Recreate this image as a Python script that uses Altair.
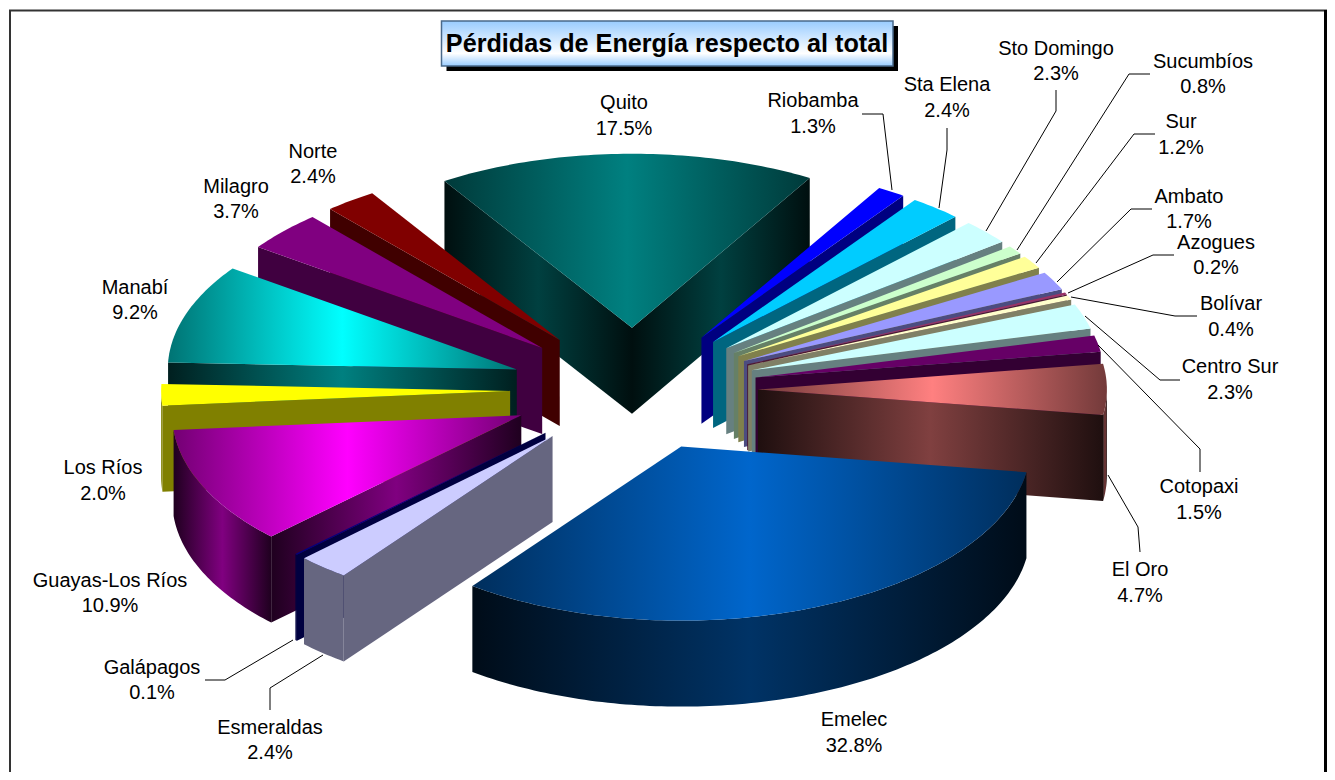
import math
import altair as alt

# ---- data ----
names = ["Quito", "Riobamba", "Sta Elena", "Sto Domingo", "Sucumbíos", "Sur", "Ambato", "Azogues",
         "Bolívar", "Centro Sur", "Cotopaxi", "El Oro", "Emelec", "Esmeraldas", "Galápagos",
         "Guayas-Los Ríos", "Los Ríos", "Manabí", "Milagro", "Norte"]
shares = [17.5, 1.3, 2.4, 2.3, 0.8, 1.2, 1.7, 0.2, 0.4, 2.3, 1.5, 4.7, 32.8, 2.4, 0.1, 10.9, 2.0, 9.2, 3.7, 2.4]
colors = ["#008080", "#0000FF", "#00CCFF", "#CCFFFF", "#CCFFCC", "#FFFF99", "#9999FF", "#993366",
          "#FFFFCC", "#CCFFFF", "#660066", "#FF8080", "#0066CC", "#CCCCFF", "#000080",
          "#FF00FF", "#FFFF00", "#00FFFF", "#800080", "#800000"]
shaded = ["Quito", "El Oro", "Emelec", "Guayas-Los Ríos", "Manabí"]

# label placement (page pixels)
label_x = [624, 813, 947, 1056, 1203, 1181, 1189, 1216, 1231, 1230, 1199, 1140, 854, 270, 152, 110, 103, 135, 236, 313]
label_y1 = [103, 101, 85, 49, 62, 122, 197, 243, 304, 367, 487, 570, 720, 728, 668, 581, 468, 288, 187, 152]
label_y2 = [129, 127, 111, 74, 87, 148, 222, 268, 330, 393, 513, 596, 746, 753, 693, 606, 494, 313, 212, 177]

# leader lines (page pixels)
leaders = [
    [(862, 114), (883, 114), (892, 190)],
    [(947, 128), (947, 150), (939, 208)],
    [(1056, 90), (1056, 111), (986, 231)],
    [(1150, 74), (1129, 74), (1017, 250)],
    [(1155, 134), (1134, 134), (1036, 263)],
    [(1152, 209), (1131, 209), (1057, 282)],
    [(1174, 255), (1153, 255), (1068, 293)],
    [(1197, 316), (1175, 316), (1071, 297)],
    [(1180, 380), (1160, 380), (1085, 316)],
    [(1200, 472), (1200, 449), (1098, 345)],
    [(1140, 552), (1138, 527), (1108, 475)],
    [(205, 680), (225, 680), (293, 640)],
    [(270, 710), (270, 688), (323, 655)],
]

# ---- pie geometry ----
CX, CY = 634, 389.5
RX, RY = 349, 174
DEPTH = 86
EXPLODE = 0.355
START = -32.5
OFF = 8  # page margin


def scale_hex(c, f):
    r, g, b = (int(c[i:i + 2], 16) for i in (1, 3, 5))
    return "#%02x%02x%02x" % (round(r * f), round(g * f), round(b * f))


def shade(c, lo, hi):
    return alt.Gradient(gradient="linear", x1=0, x2=1, y1=0, y2=0, stops=[
        alt.GradientStop(offset=0, color=scale_hex(c, lo)),
        alt.GradientStop(offset=0.5, color=scale_hex(c, hi)),
        alt.GradientStop(offset=1, color=scale_hex(c, lo)),
    ])


def feature(kind, coords):
    return {"type": "Feature", "properties": {}, "geometry": {"type": kind, "coordinates": coords}}


def poly(points):
    pts = [[x - OFF, y - OFF] for x, y in points]
    pts.append(pts[0])
    return feature("Polygon", [pts])


def line(points):
    return feature("LineString", [[x - OFF, y - OFF] for x, y in points])


PROJ = dict(type="identity", scale=1, translate=[0, 0])


def shape(feat, **mark):
    return alt.Chart(alt.Data(values=[feat])).mark_geoshape(**mark).project(**PROJ)


def rim(ax, ay, a0, a1, dy=0.0):
    n = max(2, int(abs(a1 - a0)) + 2)
    out = []
    for i in range(n + 1):
        t = math.radians(a0 + (a1 - a0) * i / n)
        out.append((ax + RX * math.sin(t), ay - RY * math.cos(t) + dy))
    return out


total = sum(shares)
slices = []
angle = START
for nm, sh, col in zip(names, shares, colors):
    sweep = sh / total * 360
    a, b = angle, angle + sweep
    mid = math.radians((a + b) / 2)
    slices.append(dict(name=nm, color=col, a=a, b=b, depth_key=-math.cos(mid),
                       ax=CX + EXPLODE * RX * math.sin(mid),
                       ay=CY - EXPLODE * RY * math.cos(mid)))
    angle = b
slices.sort(key=lambda s: s["depth_key"])

layers = []

# frame
layers.append(shape(line([(10, 780), (10, 10.5), (1327, 10.5)]), filled=False, stroke="#333333", strokeWidth=2))
layers.append(shape(line([(1325.5, 10), (1325.5, 780)]), filled=False, stroke="#000000", strokeWidth=3))

for s in slices:
    c, a, b, ax, ay = s["color"], s["a"], s["b"], s["ax"], s["ay"]
    grad = s["name"] in shaded
    wall_fill = (lambda: shade(c, 0.12, 0.5)) if grad else (lambda: scale_hex(c, 0.5))
    top_fill = shade(c, 0.45, 1.0) if grad else c

    def wall(angle_deg):
        t = math.radians(angle_deg)
        px, py = ax + RX * math.sin(t), ay - RY * math.cos(t)
        return poly([(ax, ay), (px, py), (px, py + DEPTH), (ax, ay + DEPTH)])

    if math.sin(math.radians(a)) < 0:
        layers.append(shape(wall(a), fill=wall_fill()))
    if math.sin(math.radians(b)) > 0:
        layers.append(shape(wall(b), fill=wall_fill()))
    o0, o1 = max(a, 90), min(b, 270)
    if o1 > o0:
        edge = rim(ax, ay, o0, o1)
        low = rim(ax, ay, o1, o0, DEPTH)
        layers.append(shape(poly(edge + low), fill=wall_fill()))
    layers.append(shape(poly([(ax, ay)] + rim(ax, ay, a, b)), fill=top_fill))

# leader lines
for pts in leaders:
    layers.append(shape(line(pts), filled=False, stroke="#000000", strokeWidth=1))

# title box
BX0, BY0, BX1, BY1 = 441.5, 21, 893, 66
layers.append(shape(poly([(BX0 + 5, BY0 + 5), (BX1 + 5, BY0 + 5), (BX1 + 5, BY1 + 5), (BX0 + 5, BY1 + 5)]), fill="#000000"))
title_fill = alt.Gradient(gradient="linear", x1=0, x2=0, y1=0, y2=1, stops=[
    alt.GradientStop(offset=0, color="#99CCFF"),
    alt.GradientStop(offset=0.72, color="#FFFFFF"),
    alt.GradientStop(offset=1, color="#99CCFF"),
])
layers.append(shape(poly([(BX0, BY0), (BX1, BY0), (BX1, BY1), (BX0, BY1)]), fill=title_fill, stroke="#4A6A8A", strokeWidth=1.5))
layers.append(
    alt.Chart(alt.Data(values=[{"t": "Pérdidas de Energía respecto al total", "x": 667 - OFF, "y": 44 - OFF}]))
    .mark_text(font="Liberation Sans", fontWeight="bold", fontSize=25.2, color="#000000")
    .encode(x=alt.X("x:Q", scale=None), y=alt.Y("y:Q", scale=None), text="t:N")
)

# data labels
rows = [dict(name=n, pct=f"{p:.1f}%", x=x - OFF, y1=y1 - OFF, y2=y2 - OFF)
        for n, p, x, y1, y2 in zip(names, shares, label_x, label_y1, label_y2)]
label_data = alt.Data(values=rows)
layers.append(
    alt.Chart(label_data).mark_text(font="Liberation Sans", fontSize=20, color="#000000")
    .encode(x=alt.X("x:Q", scale=None), y=alt.Y("y1:Q", scale=None), text="name:N")
)
layers.append(
    alt.Chart(label_data).mark_text(font="Liberation Sans", fontSize=20, color="#000000")
    .encode(x=alt.X("x:Q", scale=None), y=alt.Y("y2:Q", scale=None), text="pct:N")
)

chart = (
    alt.layer(*layers)
    .properties(width=1319, height=764, padding=0, autosize="none", background="#FFFFFF")
    .configure_view(stroke=None)
)
chart.save("out.html", embed_options={"renderer": "svg", "actions": False})
